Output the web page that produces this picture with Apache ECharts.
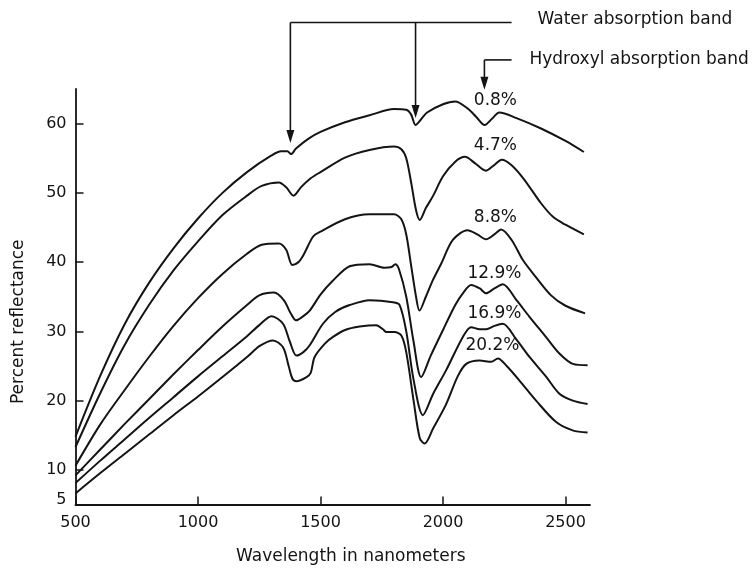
<!DOCTYPE html>
<html>
<head>
<meta charset="utf-8">
<title>Soil reflectance vs moisture</title>
<script src="https://cdn.jsdelivr.net/npm/echarts@6/dist/echarts.min.js"></script>
<style>
  html, body { margin: 0; padding: 0; background: #ffffff; }
  #chart { width: 753px; height: 571px; }
</style>
</head>
<body>
<div id="chart"></div>
<script>
// Reflectance spectra of a soil at six moisture contents: [wavelength nm, percent reflectance]
const moisture08 = [[500,14.8],[600,23.5],[700,31],[800,37],[900,42],[1000,46.3],[1100,50],[1200,53],[1300,55.4],[1340,56.0],[1365,56.0],[1380,55.6],[1400,56.4],[1450,57.8],[1500,58.8],[1600,60.2],[1700,61.2],[1800,62.1],[1850,62.0],[1870,61.3],[1888,59.8],[1910,60.6],[1935,61.6],[2000,62.8],[2050,63.2],[2100,62.2],[2135,61.0],[2170,59.8],[2200,60.7],[2230,61.6],[2300,60.8],[2400,59.3],[2500,57.5],[2575,55.9]];
const moisture47 = [[500,13.3],[600,21],[700,28],[800,33.8],[900,38.8],[1000,43],[1100,46.8],[1200,49.6],[1260,51],[1330,51.5],[1360,50.8],[1390,49.6],[1420,50.8],[1460,52.1],[1500,53],[1600,55.1],[1700,56.2],[1800,56.7],[1830,56.3],[1850,55.0],[1870,51.5],[1890,47.5],[1905,46.1],[1930,47.8],[1960,49.6],[2000,52.4],[2050,54.5],[2090,55.2],[2130,54.3],[2175,53.2],[2205,53.9],[2240,54.8],[2280,54.0],[2330,52.0],[2400,48.5],[2450,46.5],[2500,45.4],[2575,44.0]];
const moisture88 = [[500,10.6],[600,16.5],[700,21.5],[800,26.3],[900,30.8],[1000,34.8],[1100,38.3],[1200,41.2],[1260,42.5],[1330,42.7],[1360,41.8],[1385,39.6],[1410,40.0],[1430,41.0],[1470,43.7],[1500,44.4],[1600,46.2],[1700,46.9],[1800,46.9],[1830,46.2],[1850,44.0],[1870,39.5],[1890,35.0],[1904,33.0],[1930,35.0],[1960,37.5],[1993,39.8],[2040,43.2],[2100,44.6],[2140,44.0],[2176,43.3],[2210,44.0],[2237,44.7],[2280,43.2],[2326,40.3],[2380,37.8],[2441,35.2],[2500,33.7],[2580,32.6]];
const moisture129 = [[500,9.2],[600,12.9],[700,16.6],[800,20.2],[900,23.8],[1000,27.3],[1100,30.7],[1200,33.8],[1250,35.2],[1310,35.6],[1350,34.5],[1380,32.5],[1400,31.6],[1430,32.2],[1456,33.0],[1500,35.3],[1550,37.3],[1619,39.4],[1700,39.7],[1760,39.2],[1790,39.3],[1805,39.7],[1820,39.0],[1850,35.0],[1880,28.5],[1911,23.4],[1950,26.5],[2000,30.2],[2050,33.8],[2081,35.5],[2115,36.7],[2150,36.2],[2176,35.5],[2210,36.2],[2244,36.8],[2300,34.5],[2353,32.1],[2420,29.2],[2475,26.8],[2530,25.3],[2590,25.1]];
const moisture169 = [[500,8.1],[600,11.3],[700,14.4],[800,17.5],[900,20.5],[1000,23.5],[1100,26.4],[1200,29.3],[1250,30.9],[1300,32.2],[1347,31.1],[1375,28.5],[1402,26.5],[1430,27.0],[1456,28.0],[1510,31.1],[1560,32.8],[1619,33.8],[1701,34.5],[1796,34.2],[1823,33.8],[1850,30.0],[1880,23.0],[1918,17.9],[1960,21.0],[2013,24.4],[2081,29.2],[2115,30.6],[2150,30.3],[2176,30.3],[2210,30.8],[2244,31.1],[2300,28.8],[2353,26.3],[2420,23.5],[2475,21.0],[2530,20.0],[2590,19.5]];
const moisture202 = [[500,6.6],[600,9.5],[700,12.3],[800,15.1],[900,17.9],[1000,20.6],[1100,23.4],[1200,26.3],[1252,27.9],[1306,28.7],[1347,27.7],[1370,25.0],[1385,23.2],[1402,22.8],[1443,23.4],[1460,24.0],[1476,26.3],[1520,28.3],[1551,29.2],[1600,30.2],[1660,30.7],[1728,30.9],[1755,30.3],[1769,29.9],[1802,29.9],[1830,29.4],[1850,27.0],[1880,20.0],[1905,14.6],[1925,13.8],[1960,16.0],[2013,19.5],[2060,23.5],[2095,25.3],[2149,25.8],[2197,25.6],[2224,26.1],[2260,25.0],[2312,22.9],[2380,20.0],[2462,16.9],[2529,15.7],[2590,15.4]];

const moistureNames = ['0.8%', '4.7%', '8.8%', '12.9%', '16.9%', '20.2%'];
const moistureSeries = [moisture08, moisture47, moisture88, moisture129, moisture169, moisture202];
// Where each moisture label sits: [wavelength, reflectance]
const labelWavelengths = [2214, 2214, 2214, 2210, 2210, 2202];
const labelReflectance = [63.4, 56.8, 46.4, 38.4, 32.5, 27.9];

const xTicks = [500, 1000, 1500, 2000, 2500];
const yTicks = [5, 10, 20, 30, 40, 50, 60];

// Absorption band call-outs (wavelength / reflectance positions)
const waterBandWavelengths = [1377, 1888];
const waterBandTips = [57.2, 60.8];
const waterBarLevel = 74.6;
const hydroxylWavelength = 2169;
const hydroxylTip = 64.9;
const hydroxylBarLevel = 69.2;
const calloutEnd = 2280;
const calloutTextStart = 2386;

const FONT = '"DejaVu Sans", "Liberation Sans", Arial, sans-serif';
const INK = '#141414';

const series = moistureSeries.map((d, i) => ({
  name: moistureNames[i],
  type: 'line',
  data: d,
  showSymbol: false,
  smooth: 0.3,
  lineStyle: { color: INK, width: 2 },
  z: 3
}));

series.push({
  name: 'labels',
  type: 'scatter',
  symbolSize: 0,
  itemStyle: { color: INK, opacity: 0 },
  data: labelWavelengths.map((w, i) => ({ value: [w, labelReflectance[i]], name: moistureNames[i] })),
  label: {
    show: true,
    position: 'inside',
    formatter: p => p.name,
    color: INK,
    opacity: 1,
    textBorderWidth: 0,
    fontFamily: FONT,
    fontSize: 17
  },
  silent: true,
  z: 4
});

const option = {
  animation: false,
  backgroundColor: '#ffffff',
  grid: { left: 75.5, right: 163, top: 89, bottom: 66.5, containLabel: false },
  xAxis: {
    type: 'value',
    min: 500,
    max: 2600,
    name: 'Wavelength in nanometers',
    nameLocation: 'middle',
    nameGap: 44,
    nameTextStyle: { color: INK, fontFamily: FONT, fontSize: 17, padding: [0, 0, 0, 36] },
    axisLine: { show: true, onZero: false, lineStyle: { color: INK, width: 1.8 } },
    axisTick: { show: true, inside: true, length: 8, customValues: xTicks, lineStyle: { color: INK, width: 1.5 } },
    axisLabel: { customValues: xTicks, formatter: v => String(v), color: INK, fontFamily: FONT, fontSize: 16, margin: 10 },
    splitLine: { show: false }
  },
  yAxis: {
    type: 'value',
    min: 5,
    max: 65,
    name: 'Percent reflectance',
    nameLocation: 'middle',
    nameRotate: 90,
    nameGap: 48,
    nameTextStyle: { color: INK, fontFamily: FONT, fontSize: 17, padding: [0, 50, 0, 0] },
    axisLine: { show: true, onZero: false, lineStyle: { color: INK, width: 1.8 } },
    axisTick: { show: true, inside: true, length: 8, customValues: yTicks, lineStyle: { color: INK, width: 1.5 } },
    axisLabel: {
      customValues: yTicks,
      color: INK,
      fontFamily: FONT,
      fontSize: 16,
      margin: 9,
      formatter: v => (v === 5 ? '{low|5}' : String(v)),
      rich: { low: { color: INK, fontFamily: FONT, fontSize: 16, padding: [0, 0, 10, 0] } }
    },
    splitLine: { show: false }
  },
  series: series
};

const chart = echarts.init(document.getElementById('chart'), null, { renderer: 'canvas' });
chart.setOption(option);

// Call-out arrows and captions, placed through the chart's coordinate system
function toPx(w, r) { return chart.convertToPixel({ gridIndex: 0 }, [w, r]); }

function arrow(w, fromLevel, tipLevel) {
  const top = toPx(w, fromLevel);
  const tip = toPx(w, tipLevel);
  const headLen = 13, headHalf = 4;
  return [
    { type: 'line', shape: { x1: top[0], y1: top[1], x2: tip[0], y2: tip[1] - headLen + 2 },
      style: { stroke: INK, lineWidth: 1.6 }, silent: true },
    { type: 'polygon', shape: { points: [[tip[0] - headHalf, tip[1] - headLen], [tip[0] + headHalf, tip[1] - headLen], [tip[0], tip[1]]] },
      style: { fill: INK }, silent: true }
  ];
}

const elements = [];
const wBarStart = toPx(waterBandWavelengths[0], waterBarLevel);
const wBarEnd = toPx(calloutEnd, waterBarLevel);
elements.push({ type: 'line', shape: { x1: wBarStart[0], y1: wBarStart[1], x2: wBarEnd[0], y2: wBarEnd[1] },
  style: { stroke: INK, lineWidth: 1.6 }, silent: true });
waterBandWavelengths.forEach((w, i) => elements.push(...arrow(w, waterBarLevel, waterBandTips[i])));

const hBarStart = toPx(hydroxylWavelength, hydroxylBarLevel);
const hBarEnd = toPx(calloutEnd, hydroxylBarLevel);
elements.push({ type: 'line', shape: { x1: hBarStart[0], y1: hBarStart[1], x2: hBarEnd[0], y2: hBarEnd[1] },
  style: { stroke: INK, lineWidth: 1.6 }, silent: true });
elements.push(...arrow(hydroxylWavelength, hydroxylBarLevel, hydroxylTip));

const wText = toPx(calloutTextStart, waterBarLevel);
const hText = toPx(calloutTextStart - 33, hydroxylBarLevel);
elements.push({ type: 'text', x: wText[0], y: wText[1] - 3,
  style: { text: 'Water absorption band', fill: INK, font: '17px ' + FONT, textAlign: 'left', textVerticalAlign: 'middle' }, silent: true });
elements.push({ type: 'text', x: hText[0], y: hText[1],
  style: { text: 'Hydroxyl absorption band', fill: INK, font: '17px ' + FONT, textAlign: 'left', textVerticalAlign: 'middle' }, silent: true });

chart.setOption({ graphic: { elements: elements } });
</script>
</body>
</html>
